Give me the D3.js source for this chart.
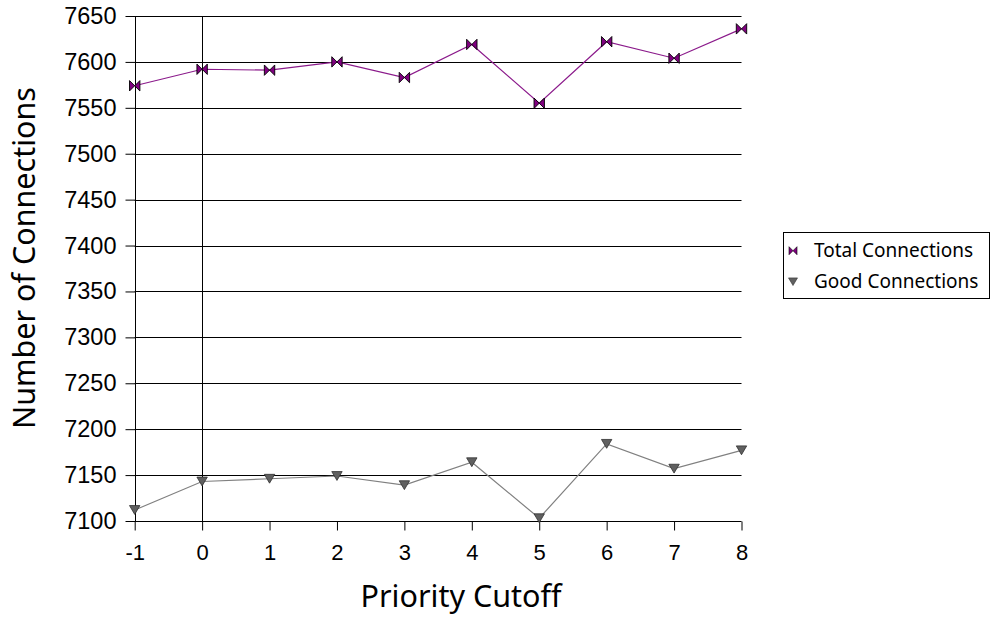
<!DOCTYPE html>
<html>
<head>
<meta charset="utf-8">
<script src="https://cdn.jsdelivr.net/npm/d3@7"></script>
<style>
  html, body { margin: 0; padding: 0; background: #fff; }
  svg { display: block; font-family: "Noto Sans", "Open Sans", sans-serif; }
</style>
</head>
<body>
<svg id="chart" width="991" height="617"></svg>
<script>
const xCategories = [-1, 0, 1, 2, 3, 4, 5, 6, 7, 8];
const totalConnections = [7574, 7592, 7591, 7600, 7583, 7619, 7555, 7622, 7604, 7636];
const goodConnections = [7112, 7143, 7146, 7149, 7139, 7164, 7103, 7184, 7157, 7177];
const yTicks = [7100, 7150, 7200, 7250, 7300, 7350, 7400, 7450, 7500, 7550, 7600, 7650];
const seriesNames = ["Total Connections", "Good Connections"];
const xTitle = "Priority Cutoff";
const yTitle = "Number of Connections";

const svg = d3.select("#chart");
const x = d3.scaleLinear().domain([-1, 8]).range([134.7, 741.5]);
const y = d3.scaleLinear().domain([7100, 7650]).range([521, 16]);

// gridlines
svg.append("g").selectAll("line").data(yTicks).join("line")
  .attr("x1", x(-1)).attr("x2", x(8))
  .attr("y1", d => Math.round(y(d)) + 0.5).attr("y2", d => Math.round(y(d)) + 0.5)
  .attr("stroke", "#000").attr("stroke-width", 1);

// vertical lines at x=-1 (axis) and x=0
svg.append("g").selectAll("line").data([-1, 0]).join("line")
  .attr("x1", d => Math.round(x(d)) + 0.5).attr("x2", d => Math.round(x(d)) + 0.5)
  .attr("y1", y(7650)).attr("y2", y(7100))
  .attr("stroke", "#000").attr("stroke-width", 1);

// y axis
const yAxis = d3.axisLeft(y).tickValues(yTicks).tickSize(10).tickPadding(9).tickFormat(d3.format("d"));
const gy = svg.append("g").attr("transform", `translate(${Math.round(x(-1)) + 0.5},0)`).call(yAxis);
gy.select(".domain").remove();
gy.selectAll(".tick line").attr("stroke", "#000");
gy.selectAll(".tick text").attr("font-size", 23.5).attr("fill", "#000");

// x axis
const xAxis = d3.axisBottom(x).tickValues(xCategories).tickSize(9).tickPadding(14).tickFormat(d3.format("d"));
const gx = svg.append("g").attr("transform", `translate(0,${Math.round(y(7100)) + 0.5})`).call(xAxis);
gx.select(".domain").remove();
gx.selectAll(".tick line").attr("stroke", "#000");
gx.selectAll(".tick text").attr("font-size", 22).attr("fill", "#000").text(d => d < 0 ? "-" + Math.abs(d) : d);

// titles
svg.append("text").attr("x", 461).attr("y", 607).attr("text-anchor", "middle")
  .attr("font-size", 30.5).attr("fill", "#000").text(xTitle);
svg.append("text").attr("transform", "translate(35,258) rotate(-90)").attr("text-anchor", "middle")
  .attr("font-size", 30.5).attr("fill", "#000").text(yTitle);

const line = d3.line().x((d, i) => x(xCategories[i])).y(d => y(d));

const bowtie = s => `M${-s},${-s}L0,0L${-s},${s}ZM${s},${-s}L0,0L${s},${s}Z`;
const triDown = s => `M${-s},${-s * 0.85}L${s},${-s * 0.85}L0,${s * 0.85}Z`;

// Good connections
svg.append("path").datum(goodConnections).attr("d", line)
  .attr("fill", "none").attr("stroke", "#808080").attr("stroke-width", 1.2);
svg.append("g").selectAll("path").data(goodConnections).join("path")
  .attr("transform", (d, i) => `translate(${x(xCategories[i])},${y(d)})`)
  .attr("d", triDown(5.2)).attr("fill", "#606060").attr("stroke", "#303030").attr("stroke-width", 0.8);

// Total connections
svg.append("path").datum(totalConnections).attr("d", line)
  .attr("fill", "none").attr("stroke", "#8b1a8b").attr("stroke-width", 1.2);
svg.append("g").selectAll("path").data(totalConnections).join("path")
  .attr("transform", (d, i) => `translate(${x(xCategories[i])},${y(d)})`)
  .attr("d", bowtie(5.2)).attr("fill", "#800080").attr("stroke", "#000").attr("stroke-width", 0.9);

// legend
const lg = svg.append("g");
lg.append("rect").attr("x", 783.5).attr("y", 232.5).attr("width", 206).attr("height", 66)
  .attr("fill", "#fff").attr("stroke", "#000").attr("stroke-width", 1);
const rows = [250.7, 281.7];
lg.append("path").attr("transform", `translate(793,${rows[0]})`).attr("d", bowtie(4))
  .attr("fill", "#800080").attr("stroke", "#000").attr("stroke-width", 0.6);
lg.append("path").attr("transform", `translate(793,${rows[1]})`).attr("d", triDown(4.5))
  .attr("fill", "#606060").attr("stroke", "#303030").attr("stroke-width", 0.6);
lg.selectAll("text.lbl").data(seriesNames).join("text").attr("class", "lbl")
  .attr("x", 814).attr("y", (d, i) => rows[i]).attr("dy", "0.35em")
  .attr("font-size", 19).attr("fill", "#000").text(d => d);
</script>
</body>
</html>
